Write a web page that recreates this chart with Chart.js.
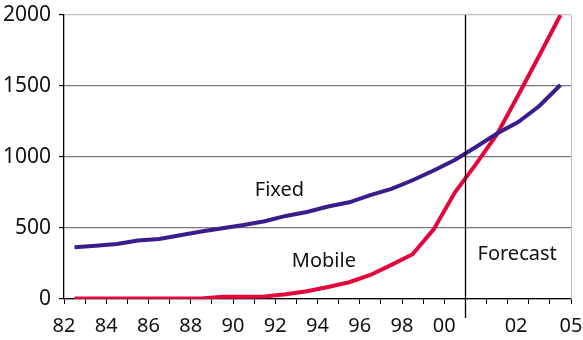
<!DOCTYPE html>
<html>
<head>
<meta charset="utf-8">
<script src="https://cdn.jsdelivr.net/npm/chart.js@4"></script>
<style>
  html, body { margin: 0; padding: 0; background: #fff; }
  #wrap { width: 583px; height: 340px; }
</style>
</head>
<body>
<div id="wrap"><canvas id="chart"></canvas></div>
<script>
// years 1982 .. 2005, one point per year
const years = ['82','83','84','85','86','87','88','89','90','91','92','93',
               '94','95','96','97','98','99','00','01','02','03','04','05'];
const fixed  = [364, 375, 387, 412, 423, 449, 475, 498, 521, 548, 585, 613,
                651, 681, 732, 775, 836, 905, 979, 1070, 1165, 1246, 1359, 1507];
const mobile = [4, 4, 4, 4, 4, 4, 4, 16, 16, 18, 33, 55,
                85, 118, 169, 240, 315, 490, 750, 950, 1160, 1435, 1715, 2000];

// x axis tick labels and where they sit (in year-slot units)
const xTickLabels = ['82','84','86','88','90','92','94','96','98','00','02','05'];
const xTickAt     = [0, 2, 4, 6, 8, 10, 12, 14, 16, 18, 21.4, 24];
const forecastAt = 19;   // start of forecast period

const fontFamily = '"Noto Sans", sans-serif';

// text labels + forecast divider
const extras = {
  id: 'extras',
  afterDatasetsDraw(chart) {
    const { ctx, scales: { x, y }, chartArea } = chart;
    ctx.save();
    // right border of plot
    ctx.strokeStyle = '#c0c0c0';
    ctx.lineWidth = 1;
    ctx.beginPath();
    ctx.moveTo(chartArea.right + 0.5, chartArea.top);
    ctx.lineTo(chartArea.right + 0.5, chartArea.bottom);
    ctx.stroke();
    // forecast line
    const fx = Math.round(x.getPixelForValue(forecastAt)) + 0.5;
    ctx.strokeStyle = '#000';
    ctx.lineWidth = 1.3;
    ctx.beginPath();
    ctx.moveTo(fx, chartArea.top);
    ctx.lineTo(fx, chartArea.bottom + 19);
    ctx.stroke();

    ctx.fillStyle = '#111';
    ctx.font = '20px ' + fontFamily;
    ctx.textAlign = 'center';
    ctx.textBaseline = 'middle';
    ctx.fillText('Fixed', x.getPixelForValue(10.2), y.getPixelForValue(762));
    ctx.fillText('Mobile', x.getPixelForValue(12.3), y.getPixelForValue(262));
    ctx.fillText('Forecast', x.getPixelForValue(21.45), y.getPixelForValue(312));
    ctx.restore();
  }
};

new Chart(document.getElementById('chart'), {
  type: 'line',
  data: {
    datasets: [{
      label: 'Fixed',
      data: fixed.map((v, i) => ({ x: i + 0.5, y: v })),
      borderColor: '#3b1c8c',
      borderWidth: 4,
      pointRadius: 0,
      tension: 0
    }, {
      label: 'Mobile',
      data: mobile.map((v, i) => ({ x: i + 0.5, y: v })),
      borderColor: '#e4053a',
      borderWidth: 4,
      pointRadius: 0,
      tension: 0
    }]
  },
  options: {
    responsive: true,
    maintainAspectRatio: false,
    animation: false,
    layout: { padding: { top: 15, right: 12, left: 0, bottom: 0 } },
    plugins: { legend: { display: false }, tooltip: { enabled: false } },
    scales: {
      x: {
        type: 'linear',
        min: 0,
        max: 24,
        afterBuildTicks: s => {
          const t = [];
          for (let i = 0; i <= 24; i++) t.push({ value: i });
          t.push({ value: xTickAt[10] });
          s.ticks = t.sort((a, b) => a.value - b.value);
        },
        afterFit: s => {
          s.height = 41;
          s.paddingLeft = 0;
          s.paddingRight = 0;
        },
        ticks: {
          autoSkip: false,
          maxRotation: 0,
          padding: 10,
          color: '#111',
          font: { family: fontFamily, size: 20 },
          callback: v => {
            const k = xTickAt.indexOf(v);
            return k >= 0 ? xTickLabels[k] : '';
          }
        },
        grid: {
          drawOnChartArea: false,
          tickLength: 5,
          tickColor: c => (c.tick && c.tick.value === xTickAt[10]) ? 'rgba(0,0,0,0)' : '#000'
        },
        border: { color: '#000', width: 1.3 }
      },
      y: {
        min: 0,
        max: 2000,
        afterFit: s => {
          s.width = 64;
          s.paddingTop = 0;
          s.paddingBottom = 0;
        },
        ticks: {
          stepSize: 500,
          padding: 8,
          color: '#111',
          font: { family: fontFamily, size: 21 },
          callback: v => String(v)
        },
        grid: {
          color: c => c.tick && c.tick.value === 2000 ? '#c0c0c0' : '#7a7a7a',
          lineWidth: 1.2,
          tickLength: 5,
          tickColor: '#000'
        },
        border: { color: '#000', width: 1.3 }
      }
    }
  },
  plugins: [extras]
});
</script>
</body>
</html>
